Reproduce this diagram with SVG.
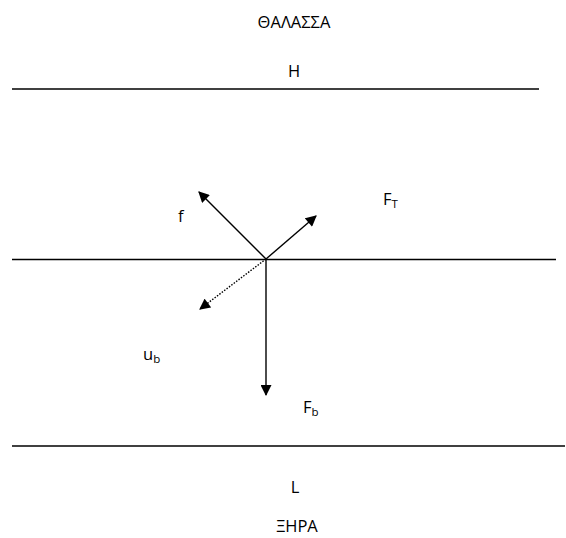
<svg xmlns="http://www.w3.org/2000/svg" width="566" height="538" viewBox="0 0 566 538">
<style>
text{font-family:"Open Sans","Liberation Sans",sans-serif;font-size:16.5px;fill:#000}
.l{stroke:#000;stroke-width:1.4;fill:none}
.sub{font-size:11.5px}
</style>
<defs>
<marker id="ah" viewBox="0 0 10 10" refX="9" refY="5" markerWidth="12" markerHeight="11" markerUnits="userSpaceOnUse" orient="auto"><path d="M0,0 L10,5 L0,10 z" fill="#000"/></marker>
</defs>
<rect width="566" height="538" fill="#fff"/>
<g id="labels">
<text x="294" y="28" text-anchor="middle">ΘΑΛΑΣΣΑ</text>
<text x="294" y="77" text-anchor="middle">H</text>
<text x="295" y="493" text-anchor="middle">L</text>
<text x="297" y="532" text-anchor="middle">ΞΗΡΑ</text>
</g>
<g id="boundaries">
<line class="l" x1="12" y1="89" x2="539" y2="89"/>
<line class="l" x1="12" y1="259.5" x2="556" y2="259.5"/>
<line class="l" x1="12" y1="446" x2="565" y2="446"/>
</g>
<g id="connectors">
<line class="l" x1="266" y1="259" x2="199" y2="192" marker-end="url(#ah)"/>
<line class="l" x1="266" y1="259" x2="316" y2="216" marker-end="url(#ah)"/>
<line class="l" x1="266" y1="259" x2="200" y2="309" stroke-dasharray="1.5 1.5" marker-end="url(#ah)"/>
<line class="l" x1="266" y1="259" x2="266" y2="395" marker-end="url(#ah)"/>
</g>
<g id="f"><text x="178" y="222">f</text></g>
<g id="FT"><text x="383" y="205">F<tspan class="sub" dy="3">T</tspan></text></g>
<g id="ub"><text x="143" y="360">u<tspan class="sub" dy="3">b</tspan></text></g>
<g id="Fb"><text x="303" y="413">F<tspan class="sub" dy="3">b</tspan></text></g>
</svg>
